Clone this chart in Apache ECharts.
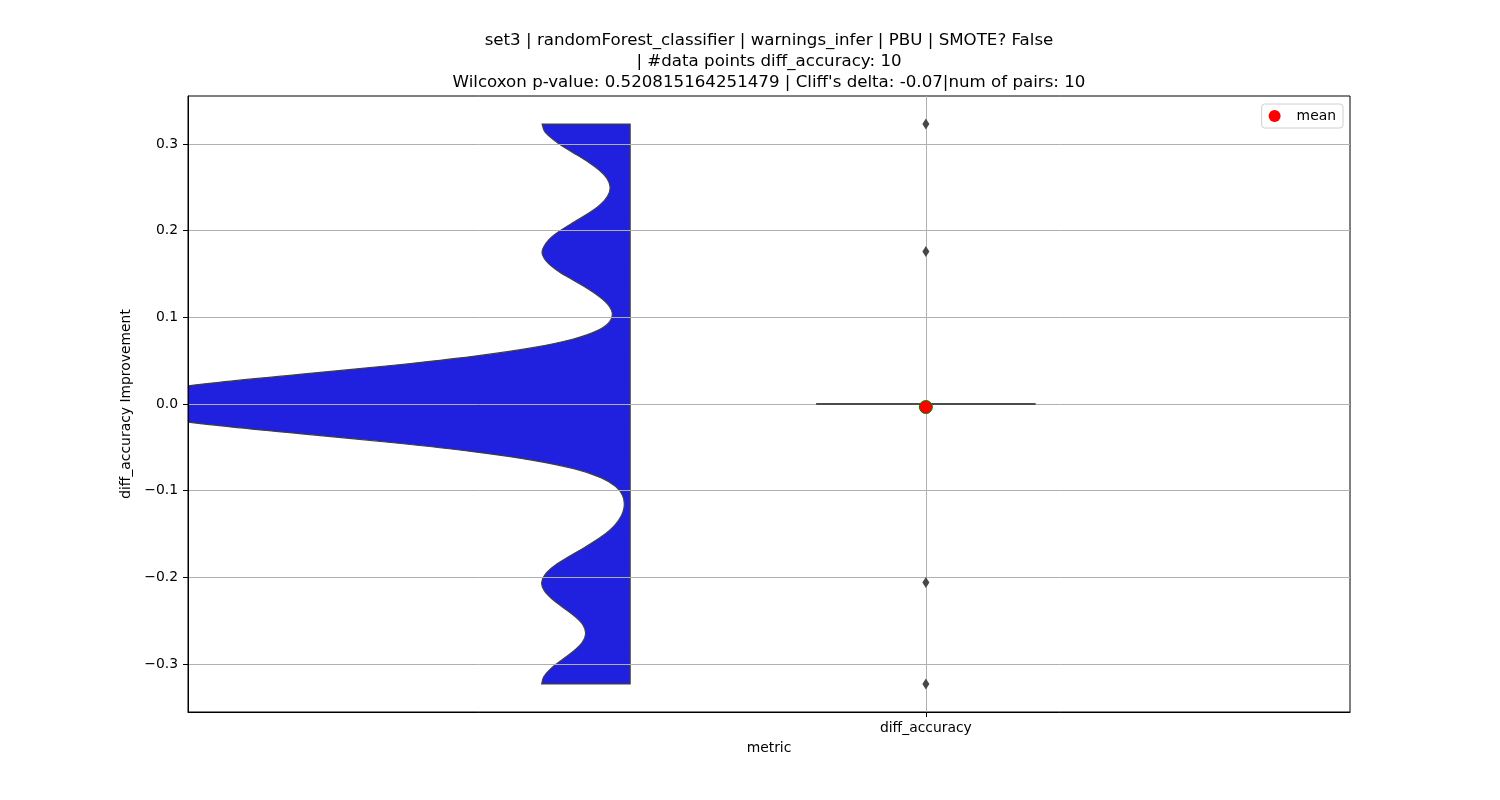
<!DOCTYPE html>
<html>
<head>
<meta charset="utf-8">
<script src="https://cdn.jsdelivr.net/npm/echarts@6/dist/echarts.min.js"></script>
<style>
html, body { margin: 0; padding: 0; background: #fff; }
#main { width: 1500px; height: 800px; }
</style>
</head>
<body>
<div id="main"></div>
<script>
// data
var categories = ['diff_accuracy'];
var yTicks = [-0.3, -0.2, -0.1, 0.0, 0.1, 0.2, 0.3];
var boxStats = [0, 0, 0, 0, 0]; // min, q1, median, q3, max
var outliers = [0.323, 0.176, -0.206, -0.323];
var meanValue = -0.0035;

// half violin outline: y value and density width (x units)
var violinY = [
    0.323, 0.315, 0.31, 0.30, 0.29, 0.28, 0.27, 0.26, 0.25, 0.24, 0.23, 0.22, 0.21, 0.20, 0.19,
    0.176, 0.165, 0.155, 0.145, 0.135, 0.125, 0.115, 0.105, 0.095, 0.085, 0.075, 0.065, 0.055,
    0.045, 0.035, 0.025, 0.015, 0.005, 0.0, -0.005, -0.015, -0.025, -0.035, -0.045, -0.055,
    -0.065, -0.075, -0.085, -0.095, -0.105, -0.115, -0.125, -0.135, -0.145, -0.155, -0.165,
    -0.175, -0.185, -0.195, -0.206, -0.215, -0.225, -0.235, -0.245, -0.255, -0.265, -0.275,
    -0.285, -0.295, -0.305, -0.315, -0.323
];
var violinWidth = [
    0.1515, 0.1477, 0.1411, 0.1222, 0.0981, 0.0740, 0.0534, 0.0396, 0.0344, 0.0387, 0.0516, 0.0718, 0.0964, 0.1205, 0.1394,
    0.1515, 0.1446, 0.1274, 0.1033, 0.0775, 0.0551, 0.0384, 0.0308, 0.0351, 0.0554, 0.0976, 0.1676, 0.2702,
    0.4028, 0.5559, 0.7074, 0.8296, 0.9002, 0.9088, 0.9002, 0.8296, 0.7074, 0.5559, 0.4028, 0.2702,
    0.1670, 0.0952, 0.0503, 0.0253, 0.0134, 0.0100, 0.0126, 0.0207, 0.0341, 0.0534, 0.0771,
    0.1029, 0.1269, 0.1442, 0.1522, 0.1480, 0.1343, 0.1148, 0.0954, 0.0812, 0.0766, 0.0824,
    0.0972, 0.1169, 0.1360, 0.1489, 0.1522
];

var catPos = 0;          // position of the category on the x axis
var violinEdge = -0.509; // flat side of the half violin
var boxHalf = 0.1885;

var titleLines = [
    'set3 | randomForest_classifier | warnings_infer | PBU | SMOTE? False',
    '| #data points diff_accuracy: 10',
    "Wilcoxon p-value: 0.520815164251479 | Cliff's delta: -0.07|num of pairs: 10"
];

var font = 'DejaVu Sans';
var myChart = echarts.init(document.getElementById('main'));

function fmtY(v) {
    var s = Math.abs(v).toFixed(1);
    return (v < -1e-9 ? '\u2212' : '') + s;
}

var option = {
    animation: false,
    backgroundColor: '#fff',
    textStyle: { fontFamily: font },
    graphic: [{
        type: 'text',
        x: 769,
        y: 30,
        z: 10,
        style: {
            text: titleLines.join('\n'),
            align: 'center',
            verticalAlign: 'top',
            font: '16.67px "DejaVu Sans"',
            lineHeight: 21,
            fill: '#000'
        }
    }],
    legend: {
        data: ['mean'],
        right: 157,
        top: 104,
        icon: 'circle',
        itemWidth: 12,
        itemHeight: 12,
        itemGap: 4,
        padding: [5, 7, 5, 7],
        borderColor: '#d0d0d0',
        borderWidth: 1,
        borderRadius: 3,
        itemStyle: { borderWidth: 0, opacity: 1 },
        textStyle: { fontFamily: font, fontSize: 13.9, color: '#000', padding: [0, 0, 0, 11] }
    },
    grid: {
        left: 188, right: 150, top: 96, bottom: 88,
        show: true, borderColor: '#000', borderWidth: 1
    },
    xAxis: {
        type: 'value',
        min: -1.27,
        max: 0.73,
        z: 3,
        name: 'metric',
        nameLocation: 'middle',
        nameGap: 29,
        nameTextStyle: { fontFamily: font, fontSize: 13.9, color: '#000' },
        axisLine: { show: true, onZero: false, lineStyle: { color: '#000', width: 1 } },
        axisTick: { show: true, length: 5, lineStyle: { color: '#000' }, customValues: [catPos] },
        axisLabel: {
            customValues: [catPos],
            margin: 9,
            fontFamily: font, fontSize: 13.9, color: '#000',
            formatter: function () { return categories[0]; }
        },
        splitLine: { show: true, lineStyle: { color: '#b0b0b0', width: 1 } }
    },
    yAxis: {
        type: 'value',
        min: -0.3554,
        max: 0.3554,
        z: 3,
        name: 'diff_accuracy Improvement',
        nameLocation: 'middle',
        nameGap: 52,
        nameTextStyle: { fontFamily: font, fontSize: 13.9, color: '#000' },
        axisLine: { show: true, onZero: false, lineStyle: { color: '#000', width: 1 } },
        axisTick: { show: true, length: 5, lineStyle: { color: '#000' }, customValues: yTicks },
        axisLabel: {
            customValues: yTicks,
            margin: 10,
            fontFamily: font, fontSize: 13.9, color: '#000',
            formatter: fmtY
        },
        splitLine: { show: true, lineStyle: { color: '#b0b0b0', width: 1 } }
    },
    series: [
        {
            name: 'violin',
            type: 'custom',
            z: 1,
            clip: true,
            silent: true,
            data: [[catPos]],
            renderItem: function (params, api) {
                var n = violinY.length;
                var pts = [];
                var first = api.coord([violinEdge - violinWidth[0], violinY[0]]);
                var last = api.coord([violinEdge - violinWidth[n - 1], violinY[n - 1]]);
                var cBot = api.coord([violinEdge, violinY[n - 1]]);
                var cTop = api.coord([violinEdge, violinY[0]]);
                pts.push(first);
                for (var i = 0; i < n; i++) {
                    pts.push(api.coord([violinEdge - violinWidth[i], violinY[i]]));
                }
                pts.push(last);
                // doubled corners keep the flat sides straight under smoothing
                pts.push(cBot, cBot, cTop, cTop, first);
                return {
                    type: 'polygon',
                    shape: { points: pts, smooth: 0.35 },
                    style: { fill: '#2020df', stroke: '#3f3f3f', lineWidth: 1.2 }
                };
            }
        },
        {
            name: 'box',
            type: 'custom',
            z: 4,
            silent: true,
            data: [boxStats],
            renderItem: function (params, api) {
                var lo = api.coord([catPos - boxHalf, boxStats[1]]);
                var hi = api.coord([catPos + boxHalf, boxStats[3]]);
                var mLo = api.coord([catPos - boxHalf, boxStats[2]]);
                var mHi = api.coord([catPos + boxHalf, boxStats[2]]);
                var wMin = api.coord([catPos, boxStats[0]]);
                var wMax = api.coord([catPos, boxStats[4]]);
                var lineStyle = { stroke: '#4d4d4d', lineWidth: 2.2, fill: null };
                return {
                    type: 'group',
                    children: [
                        { type: 'rect', shape: { x: lo[0], y: hi[1], width: hi[0] - lo[0], height: lo[1] - hi[1] }, style: { fill: '#2020df', stroke: '#4d4d4d', lineWidth: 2.2 } },
                        { type: 'line', shape: { x1: wMin[0], y1: wMin[1], x2: wMin[0], y2: lo[1] }, style: lineStyle },
                        { type: 'line', shape: { x1: wMax[0], y1: wMax[1], x2: wMax[0], y2: hi[1] }, style: lineStyle },
                        { type: 'line', shape: { x1: mLo[0], y1: mLo[1], x2: mHi[0], y2: mHi[1] }, style: lineStyle }
                    ]
                };
            }
        },
        {
            name: 'outliers',
            type: 'scatter',
            z: 5,
            symbol: 'diamond',
            symbolSize: [7, 11],
            itemStyle: { color: '#474747', opacity: 1 },
            data: outliers.map(function (v) { return [catPos, v]; })
        },
        {
            name: 'mean',
            type: 'scatter',
            z: 6,
            symbol: 'circle',
            symbolSize: 13,
            itemStyle: { color: '#ff0000', borderColor: '#008000', borderWidth: 1, opacity: 1 },
            data: [[catPos, meanValue]]
        }
    ]
};

myChart.setOption(option);
window.onresize = function () {
    myChart.resize();
};
</script>
</body>
</html>
